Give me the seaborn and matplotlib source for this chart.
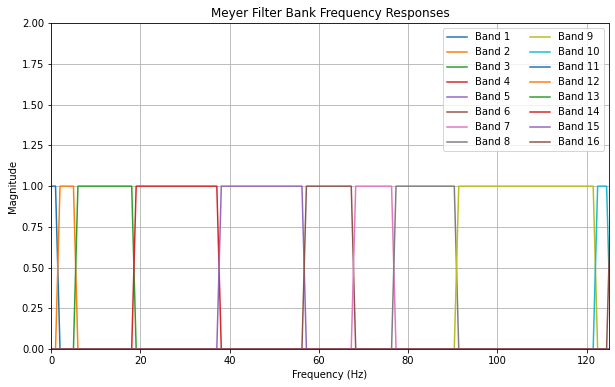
import numpy as np
import pandas as pd
import seaborn as sns
import matplotlib
matplotlib.use("Agg")
import matplotlib.pyplot as plt

# frequency grid of the filter bank (fs = 250 Hz, 250 bins)
fs = 250
n_bins = 250

# pass-band edges (Hz); bands 11-15 lie above the shown range
band_names = [f"Band {i}" for i in range(1, 17)]
band_lo = [0.0, 1.5, 5.5, 18.5, 37.7, 56.7, 67.8, 76.8, 90.9, 122.0,
           140.0, 160.0, 180.0, 200.0, 220.0, 125.0]
band_hi = [1.5, 5.5, 18.5, 37.7, 56.7, 67.8, 76.8, 90.9, 122.0, 125.0,
           160.0, 180.0, 200.0, 220.0, 250.1, 140.0]


def main():
    freqs = np.linspace(0, fs, n_bins)

    fig = plt.figure(figsize=(615 / 72, 387 / 72), dpi=72)
    ax = fig.add_subplot(111)

    for i, name in enumerate(band_names):
        resp = ((freqs >= band_lo[i]) & (freqs < band_hi[i])).astype(float)
        df = pd.DataFrame({"freq": freqs, "mag": resp})
        sns.lineplot(data=df, x="freq", y="mag", ax=ax, label=name,
                     color=f"C{i % 10}", linewidth=1.5)

    ax.set_title("Meyer Filter Bank Frequency Responses")
    ax.set_xlabel("Frequency (Hz)")
    ax.set_ylabel("Magnitude")
    ax.set_xlim(0, fs / 2)
    ax.set_ylim(0, 2)
    ax.grid(True)
    ax.legend(loc="upper right", ncol=2)

    fig.subplots_adjust(left=0.083, right=0.990, top=0.940, bottom=0.098)
    fig.savefig("out.png", dpi=72)


if __name__ == '__main__':
    main()
